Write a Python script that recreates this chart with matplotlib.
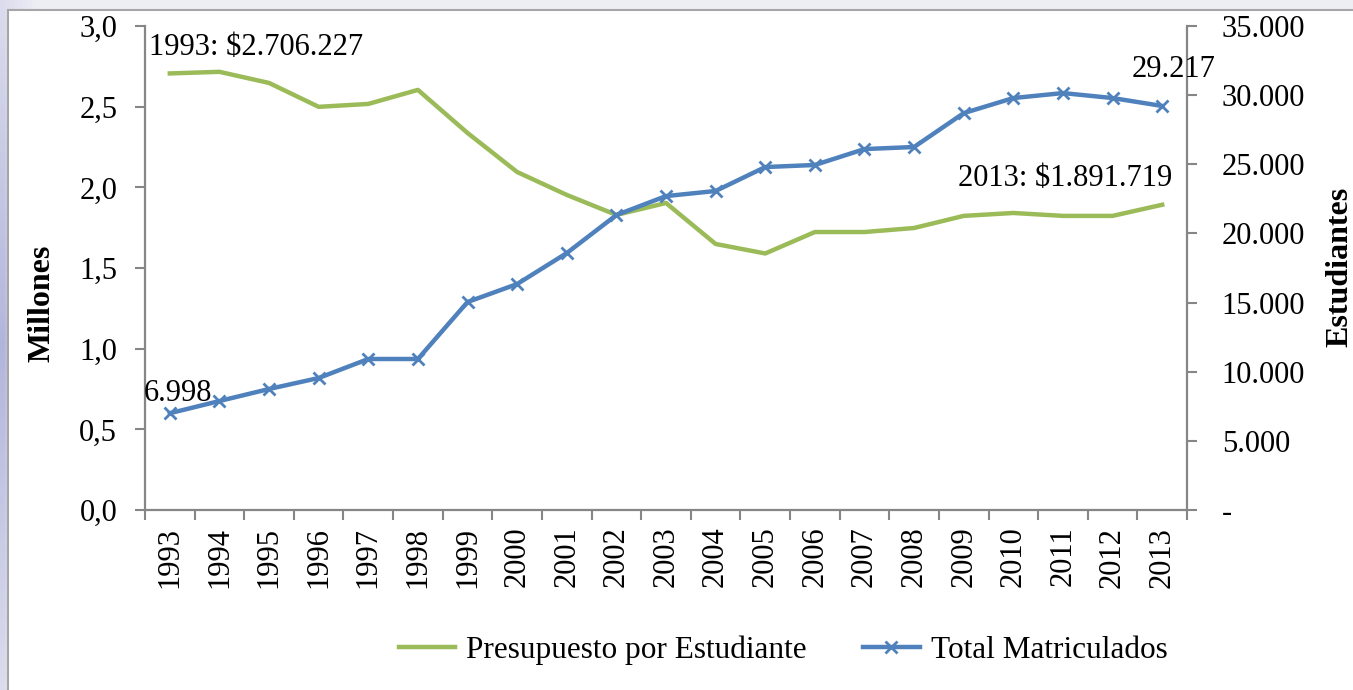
import numpy as np
import matplotlib
matplotlib.use("Agg")
import matplotlib.pyplot as plt
from matplotlib.patches import Rectangle
from matplotlib.lines import Line2D
from matplotlib.ticker import FuncFormatter, MultipleLocator

plt.rcParams['font.family'] = ['Liberation Serif', 'DejaVu Serif']

years = [str(y) for y in range(1993, 2014)]
# presupuesto por estudiante, millones de pesos
presupuesto = [2.706, 2.716, 2.647, 2.499, 2.517, 2.604, 2.337, 2.095, 1.953, 1.829,
               1.903, 1.649, 1.590, 1.723, 1.723, 1.748, 1.823, 1.841, 1.823, 1.823, 1.892]
# total matriculados
matriculados = [6998, 7880, 8750, 9545, 10920, 10920, 15040, 16340, 18580, 21330,
                22700, 23070, 24800, 24950, 26100, 26250, 28700, 29790, 30150, 29790, 29217]

green = "#9BBB59"
blue = "#4F81BD"
axcol = "#868686"
FS = 22

W, H = 1353, 690
fig = plt.figure(figsize=(W/100, H/100), dpi=100)

# slide-ish background: lavender strip on the left, light top strip
bg = fig.add_axes([0, 0, 1, 1], zorder=-10)
gx = np.linspace(0, 1, 300)
gy = np.linspace(0, 1, 100)
X, Y = np.meshgrid(gx, gy)
lav = np.array([0.70, 0.71, 0.86])
light = np.array([0.93, 0.93, 0.96])
t = np.clip(X * 40, 0, 1)[..., None]
mid = (1 - np.abs(Y - 0.5) * 1.4)[..., None]
img = light * t + (lav * mid + light * (1 - mid)) * (1 - t)
bg.imshow(img, extent=[0, 1, 0, 1], aspect='auto', origin='lower')
bg.set_axis_off()
fig.patches.append(Rectangle((8/W, -0.05), 1.1, (H-10)/H + 0.05, transform=fig.transFigure,
                             facecolor="white", edgecolor="#a6a6a6", lw=1.5, zorder=-5))

ax = fig.add_axes([145/W, 1-510/H, (1187-145)/W, (510-26)/H])
ax.patch.set_alpha(0)
x = np.arange(len(years))

ax.plot(x, presupuesto, color=green, lw=3.2, solid_joinstyle='round')
ax.set_xlim(-0.5, len(years) - 0.5)
ax.set_ylim(0, 3.0)
ax.yaxis.set_major_locator(MultipleLocator(0.5))
ax.yaxis.set_major_formatter(FuncFormatter(lambda v, p: f"{v:.1f}".replace(".", ",")))
ax.set_xticks(x)
ax.set_xticklabels(years, rotation=90)
ax.set_xticks(np.arange(-0.5, len(years), 1), minor=True)
ax.tick_params(axis='x', which='major', length=0, pad=12, labelsize=FS)
ax.tick_params(axis='x', which='minor', length=7, width=1.5, color=axcol, direction='out')
ax.tick_params(axis='y', length=7, width=1.5, color=axcol, pad=13, labelsize=FS)
for s in ['top', 'right']:
    ax.spines[s].set_visible(False)
for s in ['left', 'bottom']:
    ax.spines[s].set_color(axcol)
    ax.spines[s].set_linewidth(1.6)

ax2 = ax.twinx()
ax2.plot(x, matriculados, color=blue, lw=3.2, marker='x', markersize=9, mew=2,
         solid_joinstyle='round')
ax2.set_ylim(0, 35000)
ax2.yaxis.set_major_locator(MultipleLocator(5000))
ax2.yaxis.set_major_formatter(FuncFormatter(
    lambda v, p: "-" if v == 0 else f"{int(v):,}".replace(",", ".")))
ax2.tick_params(axis='y', length=7, width=1.5, color=axcol, pad=18, labelsize=FS)
for s in ['top', 'left', 'bottom']:
    ax2.spines[s].set_visible(False)
ax2.spines['right'].set_color(axcol)
ax2.spines['right'].set_linewidth(1.6)

# data labels
ax.annotate("1993: $2.706.227", (x[0], presupuesto[0]), xytext=(-15, 19),
            textcoords='offset points', ha='left', va='center', fontsize=FS)
ax.annotate("2013: $1.891.719", (x[-1], presupuesto[-1]), xytext=(7, 19),
            textcoords='offset points', ha='right', va='center', fontsize=FS)
ax2.annotate("6.998", (x[0], matriculados[0]), xytext=(6, 14),
             textcoords='offset points', ha='center', va='center', fontsize=FS)
ax2.annotate("29.217", (x[-1], matriculados[-1]), xytext=(8, 26),
             textcoords='offset points', ha='center', va='center', fontsize=FS)

fig.text(42/W, 1-303/H, "Millones", rotation=90, ha='center', va='center',
         fontsize=23, fontweight='bold')
fig.text(1340/W, 1-267/H, "Estudiantes", rotation=90, ha='center', va='center',
         fontsize=23, fontweight='bold')

handles = [Line2D([], [], color=green, lw=3.2),
           Line2D([], [], color=blue, lw=3.2, marker='x', markersize=9, mew=2)]
fig.legend(handles, ["Presupuesto por Estudiante", "Total Matriculados"],
           loc='center', bbox_to_anchor=(783/W, 1-650/H), ncol=2, frameon=False,
           fontsize=22.5, handlelength=1.82, handletextpad=0.35, columnspacing=1.79)

fig.savefig("out.png", dpi=100)
